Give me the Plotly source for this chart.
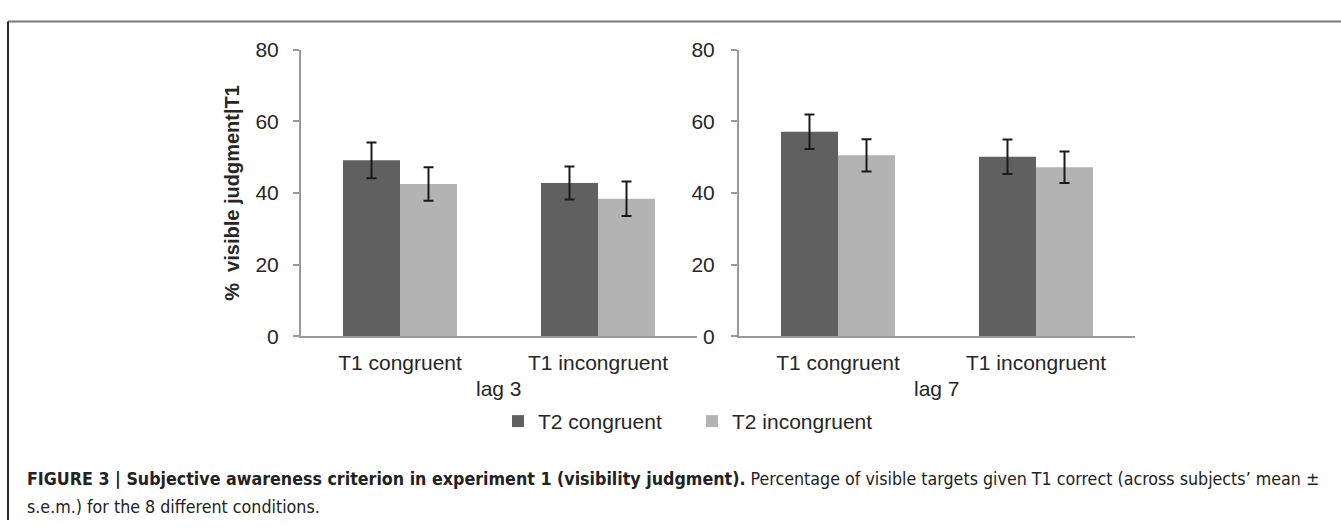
import plotly.graph_objects as go

W, H = 1341, 531

# ---- data ----
categories = ["T1 congruent", "T1 incongruent"]
series_names = ["T2 congruent", "T2 incongruent"]
lag3_t2_congruent = [49.1, 42.8]
lag3_t2_incongruent = [42.5, 38.4]
lag3_t2_congruent_err = [5.0, 4.6]
lag3_t2_incongruent_err = [4.7, 4.8]
lag7_t2_congruent = [57.1, 50.1]
lag7_t2_incongruent = [50.5, 47.2]
lag7_t2_congruent_err = [4.8, 4.8]
lag7_t2_incongruent_err = [4.5, 4.4]
panel_titles = ["lag 3", "lag 7"]
y_ticks = [0, 20, 40, 60, 80]
y_title = "%  visible judgment|T1"
caption_bold = "FIGURE 3 | Subjective awareness criterion in experiment 1 (visibility judgment)."
caption_line1 = " Percentage of visible targets given T1 correct (across subjects’ mean ±"
caption_line2 = "s.e.m.) for the 8 different conditions."

colors = ["#606060", "#b3b3b3"]
FONT = "Liberation Sans, Arial, sans-serif"
CAP_FONT = "DejaVu Sans Condensed, Roboto, sans-serif"
TXT = "#262626"


def px(x):
    return x / W


def py(y):
    return 1 - y / H


fig = go.Figure()

panels = [
    ("x", "y", [lag3_t2_congruent, lag3_t2_incongruent], [lag3_t2_congruent_err, lag3_t2_incongruent_err]),
    ("x2", "y2", [lag7_t2_congruent, lag7_t2_incongruent], [lag7_t2_congruent_err, lag7_t2_incongruent_err]),
]
for pi, (xa, ya, vals, errs) in enumerate(panels):
    for si in range(2):
        fig.add_trace(go.Bar(
            x=categories, y=vals[si], name=series_names[si],
            xaxis=xa, yaxis=ya,
            marker=dict(color=colors[si], line=dict(width=0)),
            error_y=dict(type="data", array=errs[si], visible=True,
                         color="#1a1a1a", thickness=2, width=5),
            showlegend=(pi == 0),
        ))

ydom = [py(339), py(39.3)]
axis_common = dict(showline=True, linecolor="#9a9a9a", linewidth=2, showgrid=False,
                   zeroline=False, tickfont=dict(family=FONT, size=21, color=TXT))

fig.update_layout(
    width=W, height=H,
    margin=dict(l=0, r=0, t=0, b=0),
    paper_bgcolor="white", plot_bgcolor="white",
    barmode="group", bargap=0.424, bargroupgap=0,
    font=dict(family=FONT, size=21, color=TXT),
    xaxis=dict(domain=[px(301), px(697)], anchor="y", ticks="", ticklabelstandoff=6, **axis_common),
    yaxis=dict(domain=ydom, anchor="x", range=[0, 80], tickvals=y_ticks, ticks="outside",
               ticklen=6, tickcolor="#9a9a9a", tickwidth=2, ticklabelstandoff=10,
               title=dict(text="<b>" + y_title + "</b>", font=dict(family=FONT, size=20, color=TXT),
                          standoff=10),
               **axis_common),
    xaxis2=dict(domain=[px(739), px(1135)], anchor="y2", ticks="", ticklabelstandoff=6, **axis_common),
    yaxis2=dict(domain=ydom, anchor="x2", range=[0, 80], tickvals=y_ticks, ticks="outside",
                ticklen=6, tickcolor="#9a9a9a", tickwidth=2, ticklabelstandoff=12,
                **axis_common),
    legend=dict(orientation="h", x=px(498), xanchor="left", y=py(428), yanchor="middle",
                font=dict(family=FONT, size=21, color=TXT), entrywidth=149,
                bgcolor="rgba(0,0,0,0)"),
    showlegend=True,
)

annotations = [
    dict(text=panel_titles[0], x=px(499), y=py(394), xref="paper", yref="paper",
         showarrow=False, font=dict(family=FONT, size=21, color=TXT), xanchor="center", yanchor="middle"),
    dict(text=panel_titles[1], x=px(937), y=py(394), xref="paper", yref="paper",
         showarrow=False, font=dict(family=FONT, size=21, color=TXT), xanchor="center", yanchor="middle"),
    dict(text="<b>" + caption_bold + "</b>" + caption_line1, x=px(25), y=py(488), xref="paper", yref="paper",
         showarrow=False, font=dict(family=CAP_FONT, size=17.7, color="#222"), xanchor="left", yanchor="middle"),
    dict(text=caption_line2, x=px(25), y=py(517), xref="paper", yref="paper",
         showarrow=False, font=dict(family=CAP_FONT, size=17.7, color="#222"), xanchor="left", yanchor="middle"),
]
fig.update_layout(annotations=annotations)

fig.update_layout(shapes=[
    dict(type="line", xref="paper", yref="paper", x0=px(8), x1=1, y0=py(10), y1=py(10),
         line=dict(color="#7a7a7a", width=2)),
    dict(type="line", xref="paper", yref="paper", x0=px(8), x1=px(8), y0=py(10), y1=0,
         line=dict(color="#2a2a2a", width=2)),
])

fig.write_html(
    "out.html",
    config={"displayModeBar": False},
    post_script="document.body.style.margin='0';document.body.style.overflow='hidden';",
)
